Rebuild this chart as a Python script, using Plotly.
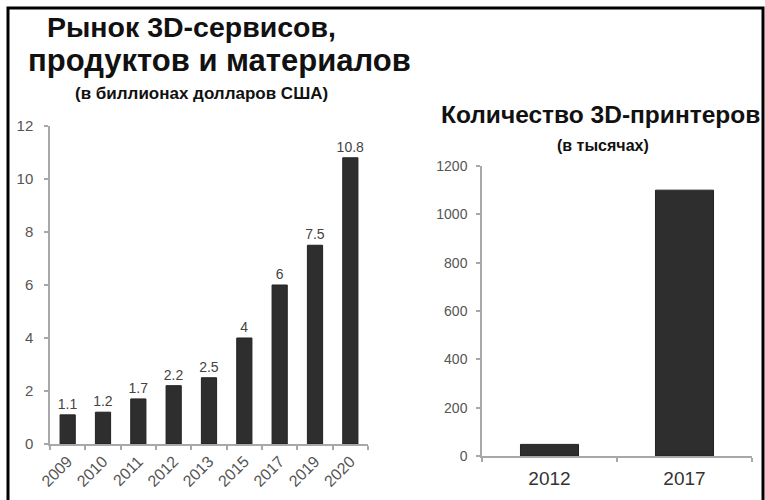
import plotly.graph_objects as go

# Data
market_years = ["2009", "2010", "2011", "2012", "2013", "2015", "2017", "2019", "2020"]
market_values = [1.1, 1.2, 1.7, 2.2, 2.5, 4, 6, 7.5, 10.8]
market_labels = ["1.1", "1.2", "1.7", "2.2", "2.5", "4", "6", "7.5", "10.8"]

printer_years = ["2012", "2017"]
printer_values = [48, 1100]

W, H = 765, 500
FONT = "Liberation Sans, Arial, sans-serif"
BAR = "#2e2e2e"
AXIS = "#a8a8a8"
TICK = "#555555"

def px(x):
    return x / W

def py(y):
    return 1 - y / H

fig = go.Figure()

fig.add_trace(go.Bar(
    x=market_years, y=market_values, text=market_labels,
    textposition="outside", cliponaxis=False, constraintext="none",
    textfont=dict(size=14, color="#444444", family=FONT),
    marker=dict(color=BAR, line=dict(color="#222222", width=1)),
    xaxis="x", yaxis="y", showlegend=False, hoverinfo="skip",
))

fig.add_trace(go.Bar(
    x=printer_years, y=printer_values,
    marker=dict(color=BAR, line=dict(color="#222222", width=1)),
    xaxis="x2", yaxis="y2", showlegend=False, hoverinfo="skip",
))

axis_common = dict(
    showgrid=False, zeroline=False, showline=True, linecolor=AXIS, linewidth=1.5,
    ticks="outside", tickcolor=AXIS, ticklen=4, tickwidth=1.5, automargin=False,
)

fig.update_layout(
    width=W, height=H,
    margin=dict(l=0, r=0, t=0, b=0),
    paper_bgcolor="white", plot_bgcolor="white",
    bargap=0.57,
    font=dict(family=FONT),
    xaxis=dict(domain=[px(50), px(368)], anchor="y", tickson="boundaries",
               tickangle=-45, tickfont=dict(size=16, color=TICK), **axis_common),
    yaxis=dict(domain=[py(444), py(126)], anchor="x", range=[0, 12], dtick=2,
               ticklabelstandoff=8,
               tickfont=dict(size=15, color=TICK), **axis_common),
    xaxis2=dict(domain=[px(482), px(752)], anchor="y2", tickson="boundaries",
                ticklabelstandoff=4,
                tickfont=dict(size=19, color="#333333"), **axis_common),
    yaxis2=dict(domain=[py(456), py(166)], anchor="x2", range=[0, 1200], dtick=200,
                ticklabelstandoff=6,
                tickfont=dict(size=14, color=TICK), **axis_common),
)

ann = [
    ("<b>Рынок 3D-сервисов,</b>", 191, 27, 28.5),
    ("<b>продуктов и материалов</b>", 219, 60, 31),
    ("<b>(в биллионах долларов США)</b>", 201, 94, 17),
    ("<b>Количество 3D-принтеров</b>", 600, 115, 24.5),
    ("<b>(в тысячах)</b>", 603, 145, 16),
]
for text, x, y, s in ann:
    fig.add_annotation(text=text, x=px(x), y=py(y), xref="paper", yref="paper",
                       xanchor="center", yanchor="middle", showarrow=False,
                       font=dict(size=s, color="#111111", family=FONT))

fig.add_shape(type="rect", xref="paper", yref="paper",
              x0=px(8), x1=px(763), y0=py(540), y1=py(8),
              line=dict(color="black", width=3))

fig.write_html("out.html", config={"displayModeBar": False},
               post_script="document.body.style.margin='0';")
